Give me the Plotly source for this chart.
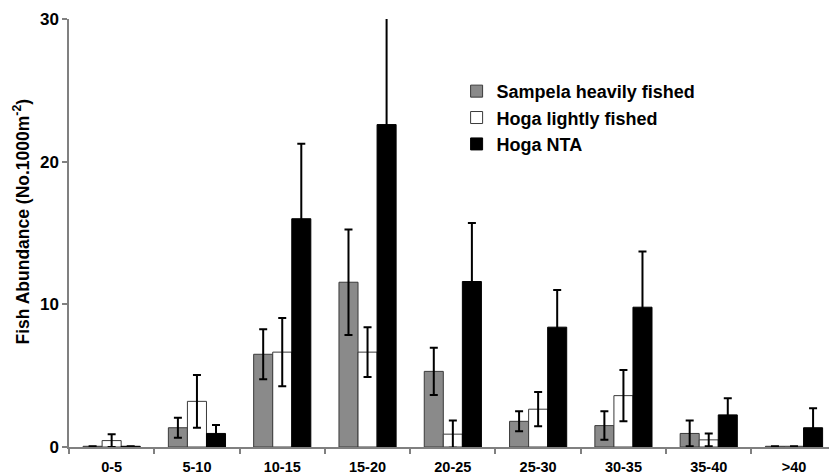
import plotly.graph_objects as go

categories = ["0-5", "5-10", "10-15", "15-20", "20-25", "25-30", "30-35", "35-40", ">40"]

sampela = [0.05, 1.35, 6.5, 11.55, 5.3, 1.8, 1.5, 0.95, 0.05]
sampela_err = [0, 0.7, 1.75, 3.7, 1.65, 0.7, 1.0, 0.9, 0]

hoga_light = [0.45, 3.2, 6.65, 6.65, 0.9, 2.65, 3.6, 0.5, 0.05]
hoga_light_err = [0.45, 1.85, 2.4, 1.75, 0.95, 1.2, 1.8, 0.45, 0]

hoga_nta = [0.05, 0.95, 16.0, 22.6, 11.6, 8.4, 9.8, 2.25, 1.35]
hoga_nta_err = [0, 0.6, 5.25, 7.5, 4.1, 2.6, 3.9, 1.17, 1.36]

y_ticks = [0, 10, 20, 30]

FONT = "Liberation Sans, Arial, sans-serif"

series = [
    ("Sampela heavily fished", sampela, sampela_err, "#8a8a8a", "#3a3a3a"),
    ("Hoga lightly fished", hoga_light, hoga_light_err, "#ffffff", "#3a3a3a"),
    ("Hoga NTA", hoga_nta, hoga_nta_err, "#000000", "#000000"),
]

fig = go.Figure()
for name, vals, errs, fill, line in series:
    fig.add_trace(go.Bar(
        name=name, x=categories, y=vals,
        marker=dict(color=fill, line=dict(color=line, width=1)),
        error_y=dict(type="data", array=errs, visible=True, color="#000000",
                     thickness=2, width=4),
        cliponaxis=False,
        legendgroup=name,
    ))

fig.update_layout(
    width=829, height=476,
    margin=dict(l=69, r=0, t=19, b=29),
    plot_bgcolor="white", paper_bgcolor="white",
    barmode="group", bargap=0.33, bargroupgap=0,
    font=dict(family=FONT, color="#000000"),
    showlegend=True,
    legend=dict(
        x=0.51, y=0.874, xanchor="left", yanchor="top",
        font=dict(family=FONT, size=18, weight=700, color="#000000"),
        bgcolor="rgba(0,0,0,0)", itemwidth=30, tracegroupgap=0,
    ),
    xaxis=dict(
        type="category", range=[-0.5, 8.41], automargin=False,
        showline=True, linecolor="#808080", linewidth=1.5,
        ticks="outside", tickson="boundaries", ticklen=5, tickcolor="#808080", tickwidth=1.5,
        tickfont=dict(family=FONT, size=14.5, weight=700, color="#000000"),
        ticklabelstandoff=6,
        showgrid=False, zeroline=False,
    ),
    yaxis=dict(
        range=[0, 30], tickvals=y_ticks, automargin=False,
        showline=True, linecolor="#808080", linewidth=1.5,
        ticks="outside", ticklen=5, tickcolor="#808080", tickwidth=1.5,
        tickfont=dict(family=FONT, size=17, weight=700, color="#000000"),
        ticklabelstandoff=0,
        showgrid=False, zeroline=False,
    ),
    annotations=[dict(
        text="Fish Abundance (No.1000m<sup>-2</sup>)",
        xref="paper", yref="paper", x=(21.5 - 69) / 760, y=(447 - 222) / 428,
        xanchor="center", yanchor="middle", textangle=-90, showarrow=False,
        font=dict(family=FONT, size=17.5, weight=700, color="#000000"),
    )],
)

fig.write_html("out.html", config={"displayModeBar": False},
               post_script="document.body.style.margin='0';")
